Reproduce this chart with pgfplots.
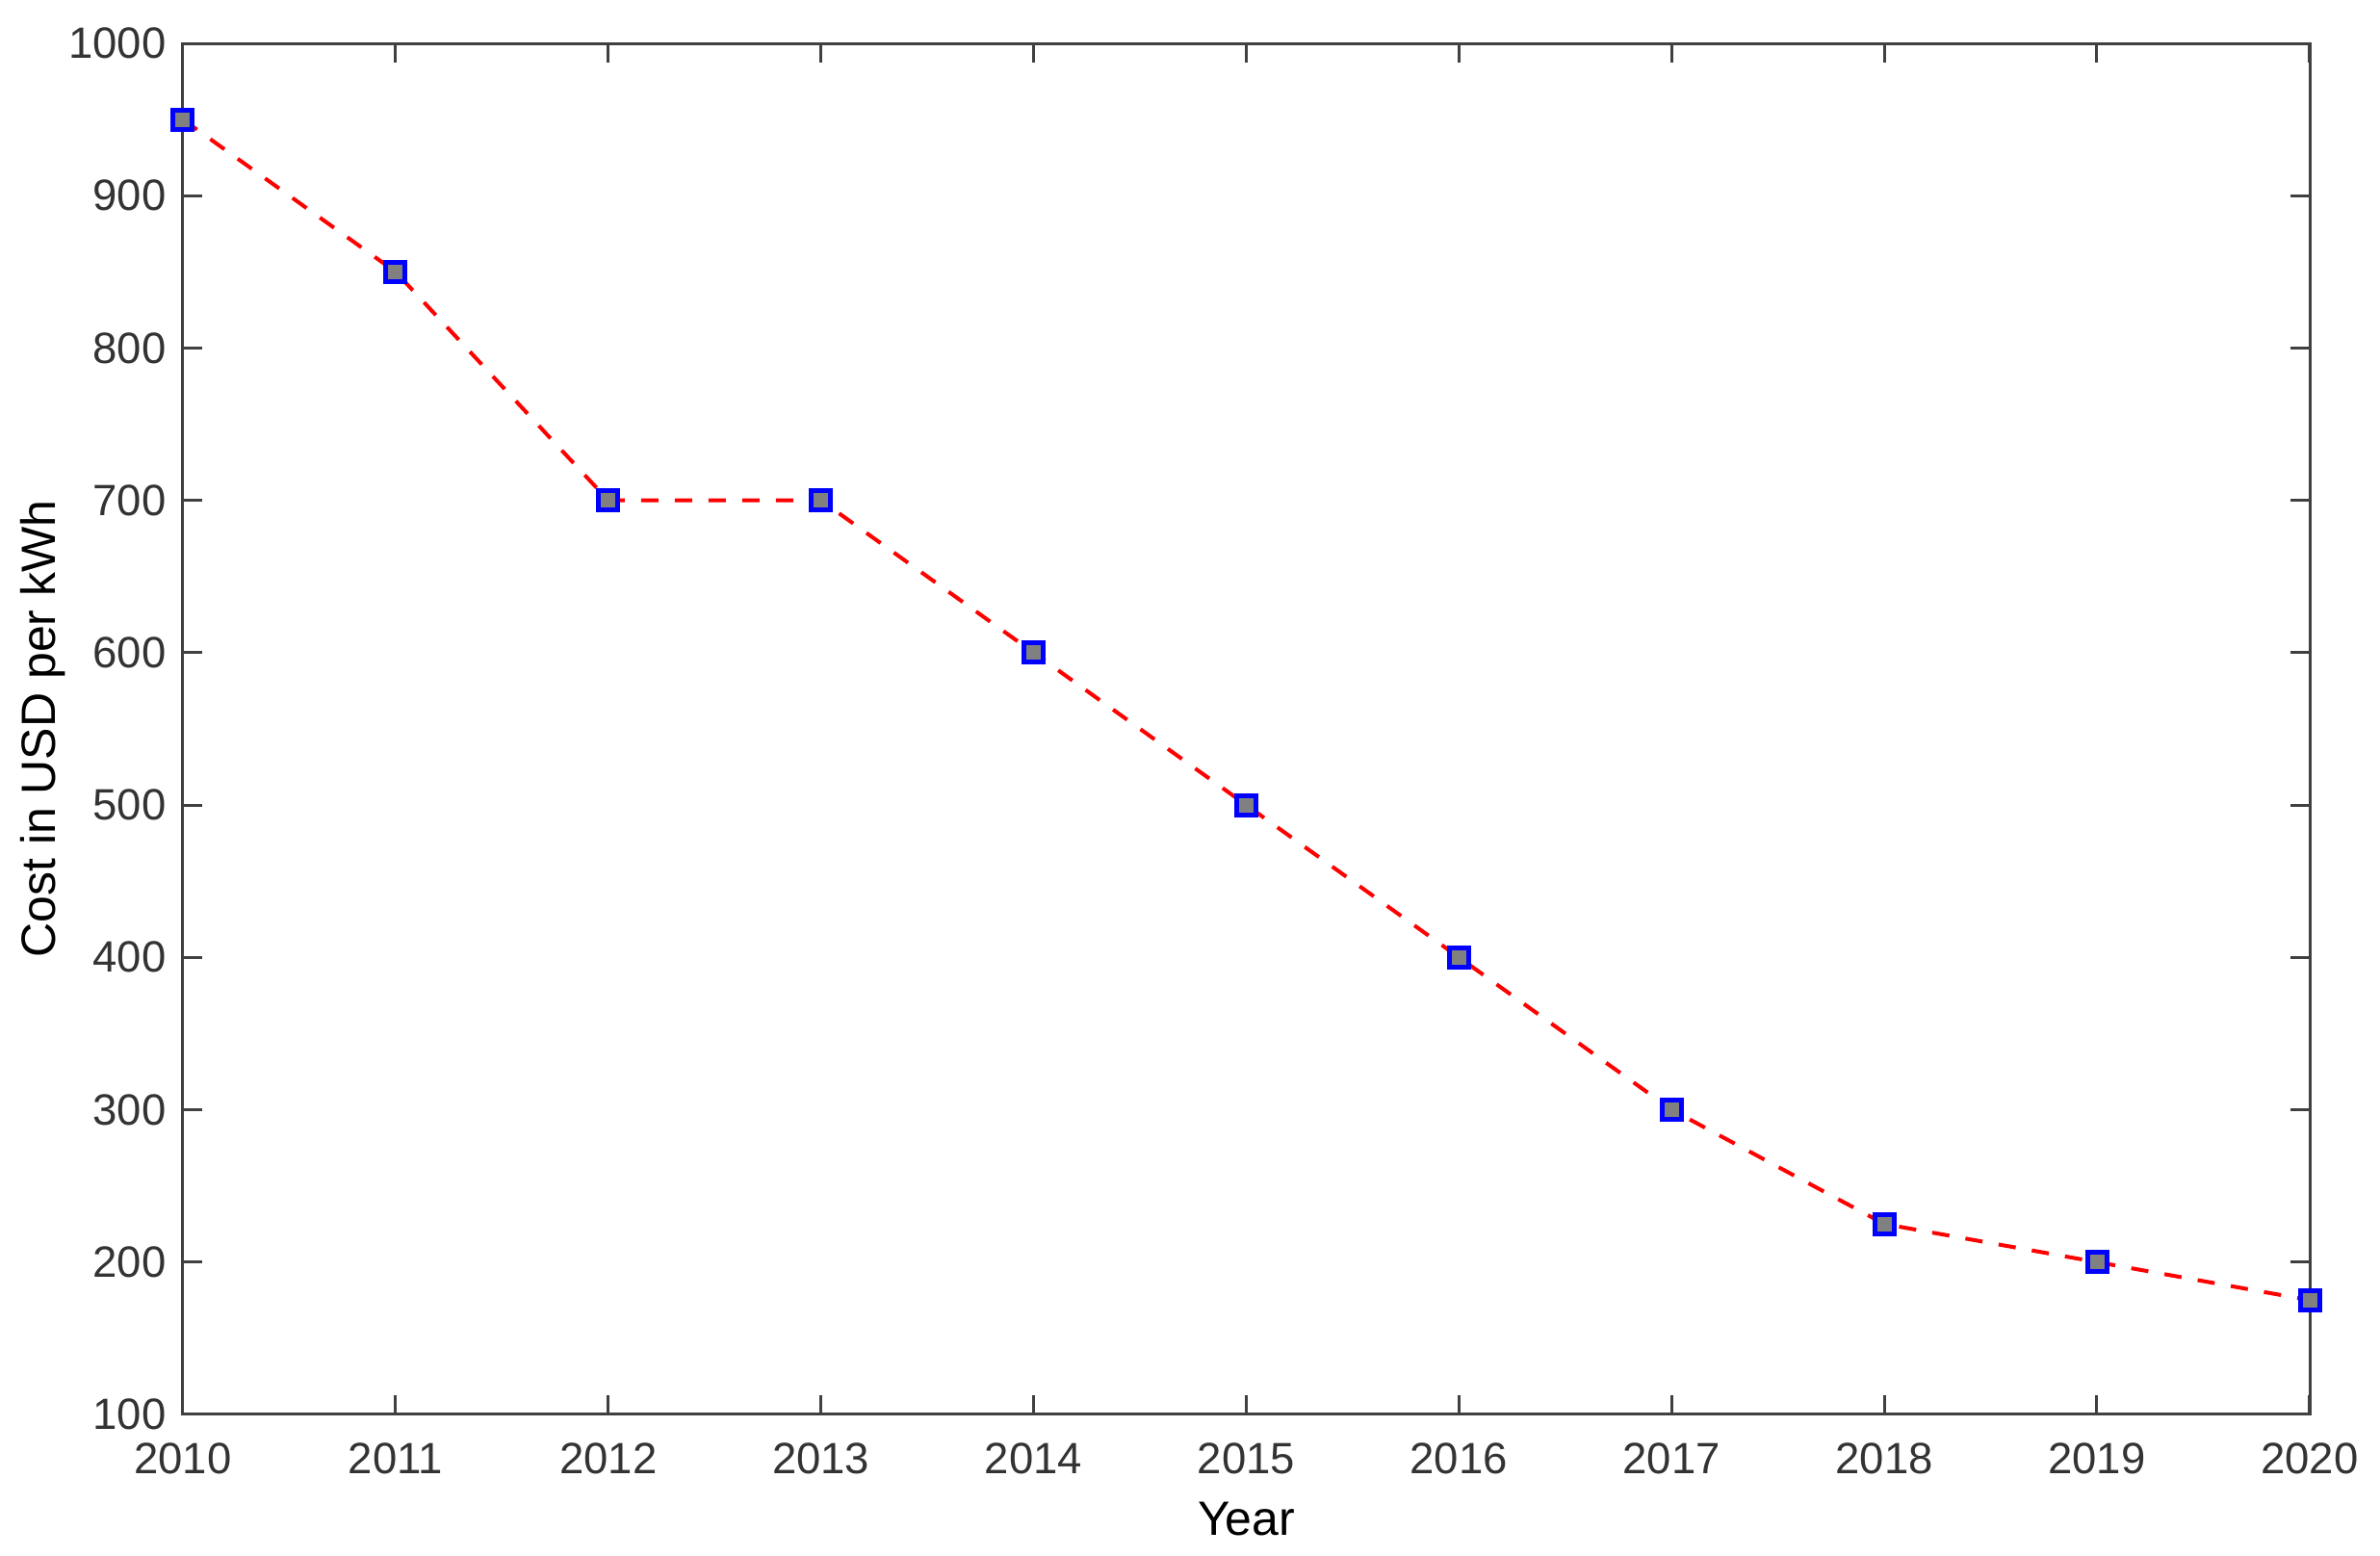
\documentclass[border=0pt]{standalone}
\usepackage{fontspec}
\setmainfont{Liberation Sans}
\usepackage{pgfplots}
\pgfplotsset{compat=1.18}

\definecolor{axgray}{gray}{0.25}
\definecolor{txtgray}{gray}{0.2}
\definecolor{mkgray}{gray}{0.5}

\begin{document}
\begin{tikzpicture}
\begin{axis}[
    at={(0,0)}, anchor=south west,
    scale only axis,
    width=441.8pt, height=284.8pt,
    xmin=2010, xmax=2020,
    ymin=100, ymax=1000,
    xtick={2010,...,2020},
    ytick={100,200,...,1000},
    /pgf/number format/1000 sep={},
    /pgf/number format/assume math mode=true,
    tick label style={font=\fontsize{9.1}{11}\selectfont, text=txtgray},
    xticklabel style={yshift=-2.5pt},
    major tick length=4pt,
    tick style={axgray, line width=0.6pt},
    axis line style={axgray, line width=0.6pt},
    tick align=inside,
    tick pos=both,
    xlabel={Year},
    ylabel={Cost in USD per kWh},
    label style={font=\fontsize{10.3}{12}\selectfont, text=txtgray},
    every axis x label/.style={at={(axis description cs:0.5,-0.076)}, anchor=center},
    every axis y label/.style={at={(axis description cs:-0.066,0.5)}, anchor=center, rotate=90},
    clip=false,
]
\addplot[red, line width=0.8pt, dash pattern=on 3.6pt off 3.4pt,
    mark=square*, mark size=2pt,
    mark options={solid, draw=blue, fill=mkgray, line width=1pt}]
coordinates {
    (2010,950) (2011,850) (2012,700) (2013,700) (2014,600) (2015,500)
    (2016,400) (2017,300) (2018,225) (2019,200) (2020,175)
};
\end{axis}
\pgfresetboundingbox
\path[use as bounding box] (-38pt,-29.4pt) rectangle (456.4pt,293.8pt);
\end{tikzpicture}
\end{document}
